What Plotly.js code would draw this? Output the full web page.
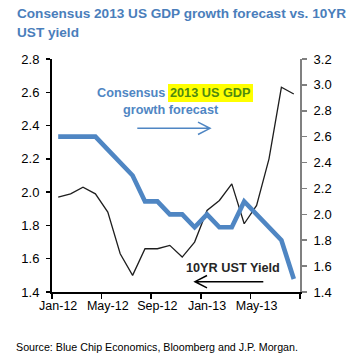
<!DOCTYPE html>
<html><head><meta charset="utf-8">
<script src="https://cdn.plot.ly/plotly-3.0.1.min.js"></script>
<style>html,body{margin:0;padding:0;background:#fff}#chart{width:352px;height:360px}</style>
</head><body><div id="chart"></div>
<script>
// ---- data ----
const months = ['Jan-12','Feb-12','Mar-12','Apr-12','May-12','Jun-12','Jul-12','Aug-12','Sep-12','Oct-12','Nov-12','Dec-12','Jan-13','Feb-13','Mar-13','Apr-13','May-13','Jun-13','Jul-13','Aug-13'];
const gdpForecast2013 = [2.6,2.6,2.6,2.6,2.5,2.4,2.3,2.1,2.1,2.0,2.0,1.9,2.0,1.9,1.9,2.1,2.0,1.9,1.8,1.5];
const ust10yYield = [1.97,1.99,2.03,1.99,1.88,1.63,1.50,1.66,1.66,1.68,1.61,1.70,1.89,1.95,2.05,1.81,1.92,2.20,2.63,2.59];
const xTickLabels = ['Jan-12','May-12','Sep-12','Jan-13','May-13'];
const leftTicks = [1.4,1.6,1.8,2.0,2.2,2.4,2.6,2.8];
const rightTicks = [1.4,1.6,1.8,2.0,2.2,2.4,2.6,2.8,3.0,3.2];

// ---- layout helpers (pixel -> paper) ----
const W = 352, H = 360, L = 52, R = 300, T = 59, B = 292;
const px = x => (x - L) / (R - L);
const py = y => (B - y) / (B - T);
const FONT = '"Liberation Sans", Arial, sans-serif';
const BLUE = '#4F86C3';
const xs = months.map((m, i) => i);

const traces = [
  {x: xs, y: ust10yYield, yaxis: 'y', mode: 'lines', line: {color: '#1e1e1e', width: 1.3}, hoverinfo: 'skip'},
  {x: xs, y: gdpForecast2013, yaxis: 'y2', mode: 'lines', line: {color: BLUE, width: 4.6}, hoverinfo: 'skip'}
];

function arrowPath(x1, x2, y, dir) {
  const back = 12 * dir, spread = 6.2;
  return `M${px(x1)},${py(y)} L${px(x2)},${py(y)} M${px(x2 - back)},${py(y - spread)} L${px(x2)},${py(y)} L${px(x2 - back)},${py(y + spread)}`;
}

const ann = (text, x, y, xanchor, font, extra) => Object.assign({
  xref: 'paper', yref: 'paper', x: px(x), y: py(y), xanchor: xanchor, yanchor: 'middle',
  text: text, showarrow: false, font: font, borderpad: 0, borderwidth: 0
}, extra || {});

const titleFont = {family: FONT, size: 13.6, color: '#4A7EBB', weight: 'bold'};
const labFont = {family: FONT, size: 12.7, color: BLUE, weight: 'bold'};
const tickFont = {family: FONT, size: 13, color: '#000'};

const layout = {
  width: W, height: H, autosize: false,
  margin: {l: L, r: W - R, t: T, b: H - B, pad: 0},
  paper_bgcolor: '#fff', plot_bgcolor: '#fff',
  showlegend: false,
  xaxis: {
    range: [-0.5, months.length - 0.5], showgrid: false, zeroline: false,
    showline: true, linecolor: '#000', linewidth: 2,
    tickmode: 'array', tickvals: xTickLabels.map(l => months.indexOf(l)), ticktext: xTickLabels,
    ticks: '', tickangle: 0, tickfont: {family: FONT, size: 12.5, color: '#000'}, ticklabelstandoff: 1,
    minor: {ticks: 'outside', tick0: -0.5, dtick: 4, ticklen: 5, tickwidth: 1.5, tickcolor: '#000', showgrid: false},
    fixedrange: true
  },
  yaxis: {
    range: [1.4, 2.8], showgrid: false, zeroline: false,
    showline: true, linecolor: '#000', linewidth: 2,
    tickmode: 'array', tickvals: leftTicks, ticktext: leftTicks.map(v => v.toFixed(1)),
    ticks: 'outside', ticklen: 4, tickwidth: 1.5, tickcolor: '#000',
    tickfont: tickFont, ticklabelstandoff: 4,
    fixedrange: true
  },
  yaxis2: {
    overlaying: 'y', side: 'right', anchor: 'x',
    range: [1.4, 3.2], showgrid: false, zeroline: false,
    showline: true, linecolor: '#808080', linewidth: 2,
    tickmode: 'array', tickvals: rightTicks, ticktext: rightTicks.map(v => v.toFixed(1)),
    ticks: 'outside', ticklen: 5, tickwidth: 1.5, tickcolor: '#808080',
    tickfont: tickFont, ticklabelstandoff: 4,
    fixedrange: true
  },
  annotations: [
    ann('Consensus 2013 US GDP growth forecast vs. 10YR', 16.7, 13.3, 'left', titleFont),
    ann('UST yield', 16.7, 32, 'left', titleFont),
    ann('Consensus', 165, 93, 'right', labFont),
    ann('2013 US GDP', 168, 92.5, 'left', {family: FONT, size: 12.7, color: '#4E8A10', weight: 'bold'},
        {bgcolor: '#FFFF00', borderpad: 2}),
    ann('growth forecast', 171, 110, 'center', labFont),
    ann('10YR UST Yield', 232.5, 268.3, 'center', {family: FONT, size: 12.7, color: '#262626', weight: 'bold'}),
    ann('Source: Blue Chip Economics, Bloomberg and J.P. Morgan.', 16, 347, 'left', {family: FONT, size: 10.7, color: '#000'})
  ],
  shapes: [
    {type: 'path', xref: 'paper', yref: 'paper', path: arrowPath(137.3, 210, 128.3, 1), line: {color: BLUE, width: 1.5}},
    {type: 'path', xref: 'paper', yref: 'paper', path: arrowPath(263.3, 195, 281.7, -1), line: {color: '#000', width: 1.5}}
  ]
};

Plotly.newPlot('chart', traces, layout, {displayModeBar: false, staticPlot: true});
</script>
</body></html>
